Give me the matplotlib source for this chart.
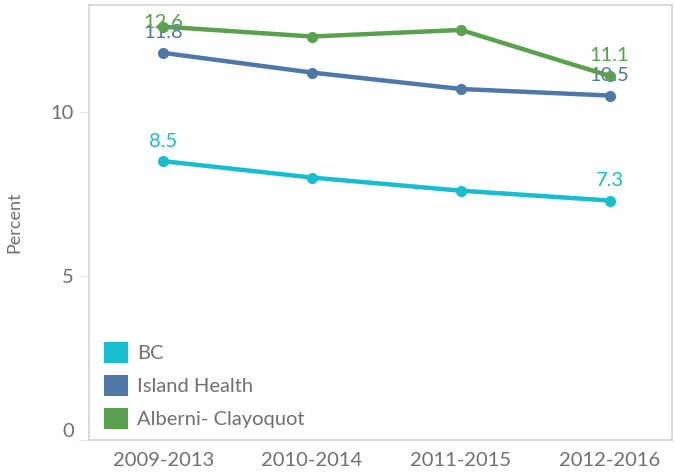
import matplotlib
matplotlib.use("Agg")
import matplotlib.pyplot as plt
from matplotlib.patches import Patch

periods = ["2009-2013", "2010-2014", "2011-2015", "2012-2016"]
bc = [8.5, 8.0, 7.6, 7.3]
island_health = [11.8, 11.2, 10.7, 10.5]
alberni = [12.6, 12.3, 12.5, 11.1]
series_names = ["BC", "Island Health", "Alberni- Clayoquot"]
colors = ["#17becf", "#4e79a7", "#59a14f"]
yticks = [0, 5, 10]

plt.rcParams['font.family'] = ['Lato', 'DejaVu Sans']
grey = '#707070'

fig = plt.figure(figsize=(6.75, 4.73), dpi=100)
ax = fig.add_axes([0.1319, 0.0698, 0.8637, 0.9196])
ymax = 13.26
ax.set_xlim(-0.5, 3.42)
ax.set_ylim(0, ymax)

x = list(range(len(periods)))
for vals, col in zip([bc, island_health, alberni], colors):
    ax.plot(x, vals, color=col, lw=3.2, marker='o', ms=7, solid_capstyle='round', zorder=3)
    for i in (0, len(vals) - 1):
        ly = min(vals[i] + 0.61, ymax - 0.52)
        ax.text(x[i], ly, f"{vals[i]:.1f}", ha='center', va='center', color=col, fontsize=14.5)

ax.set_xticks(x)
ax.set_xticklabels(periods, fontsize=14.5, color=grey)
ax.set_yticks(yticks)
ax.set_yticklabels([str(t) for t in yticks], fontsize=14.5, color=grey)
ax.tick_params(axis='x', length=0, pad=9)
ax.tick_params(axis='y', length=7, color='#e6e6e6', pad=4)
for lab in ax.get_yticklabels():
    if lab.get_text() == '0':
        lab.set_va('bottom')
        lab.set_y(0.25)
ax.set_ylabel("Percent", fontsize=13, color=grey, labelpad=20)
for s in ax.spines.values():
    s.set_color('#d4d4d4')
    s.set_linewidth(1.2)

handles = [Patch(facecolor=c, edgecolor='none') for c in colors]
leg = ax.legend(handles, series_names, loc='lower left',
                bbox_to_anchor=(104 / 675, 44 / 473), bbox_transform=fig.transFigure,
                frameon=False, fontsize=14.5, handlelength=1.2, handleheight=1.2,
                labelspacing=0.62, handletextpad=0.45, borderpad=0, borderaxespad=0,
                labelcolor=grey)

fig.savefig("out.png", dpi=100)
